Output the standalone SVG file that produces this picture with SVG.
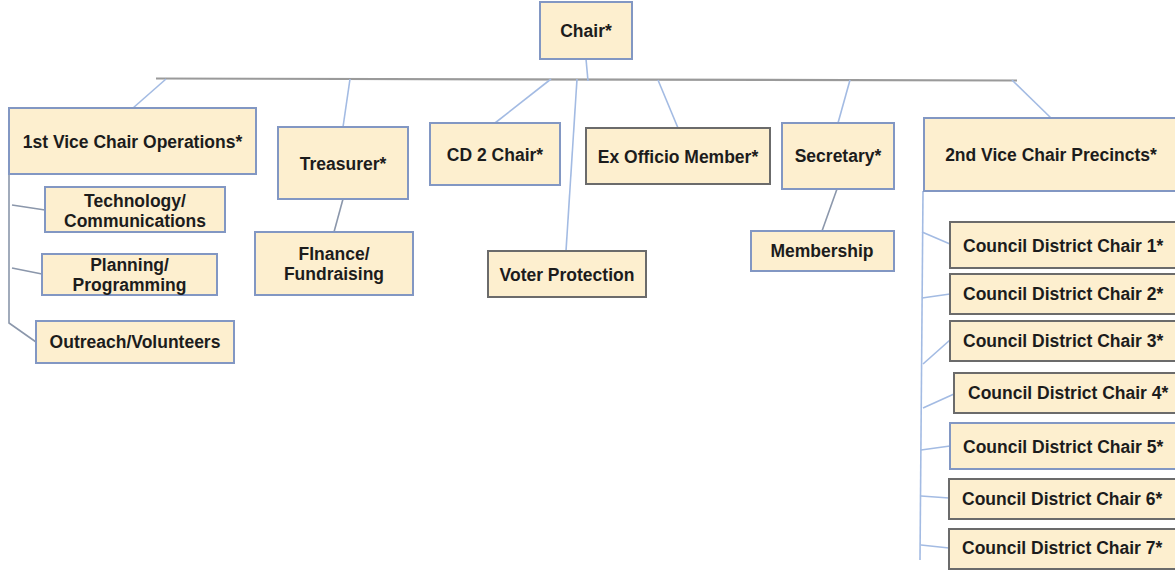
<svg xmlns="http://www.w3.org/2000/svg" width="1175" height="571" viewBox="0 0 1175 571">
<style>
.box{fill:#fdefcf;stroke:#8297c3;stroke-width:2}
.dk{stroke:#6b6b6b}
text{font-family:"Liberation Sans",Arial,sans-serif;font-weight:bold;font-size:17.5px;fill:#1c1c1c}
.c{text-anchor:middle}
.ln{fill:none;stroke:#a3bbe3;stroke-width:1.6}
.lg{fill:none;stroke:#8b97ab;stroke-width:1.6}
</style>
<rect width="1175" height="571" fill="#ffffff"/>
<g id="connectors">
<line x1="156" y1="78.5" x2="1017" y2="80.5" stroke="#9a9a9a" stroke-width="2.2"/>
<line class="ln" x1="586" y1="59" x2="588" y2="81"/>
<line class="ln" x1="166" y1="79" x2="133" y2="108"/>
<line class="ln" x1="350" y1="79" x2="343" y2="127"/>
<line class="ln" x1="551" y1="79" x2="495" y2="123"/>
<line class="ln" x1="577" y1="79" x2="566" y2="251"/>
<line class="ln" x1="658" y1="80" x2="678" y2="128"/>
<line class="ln" x1="850" y1="80" x2="838" y2="123"/>
<line class="ln" x1="1012" y1="80" x2="1051" y2="118"/>
<line class="lg" x1="343" y1="199" x2="334" y2="232"/>
<line class="lg" x1="837" y1="189" x2="822" y2="231"/>
<polyline class="lg" points="9,174 9,323 36,342"/>
<line class="lg" x1="12" y1="205" x2="45" y2="210"/>
<line class="lg" x1="12" y1="268" x2="42" y2="274"/>
<line class="ln" x1="923" y1="191" x2="920" y2="560"/>
<line class="ln" x1="922" y1="232" x2="950" y2="244"/>
<line class="ln" x1="922" y1="298" x2="950" y2="294"/>
<line class="ln" x1="923" y1="364" x2="950" y2="340"/>
<line class="ln" x1="923" y1="408" x2="954" y2="394"/>
<line class="ln" x1="921" y1="450" x2="950" y2="446"/>
<line class="ln" x1="921" y1="496" x2="949" y2="498"/>
<line class="ln" x1="921" y1="545" x2="949" y2="548"/>
</g>
<g id="chair"><rect class="box" x="540" y="2" width="92" height="57"/><text class="c" x="586" y="37">Chair*</text></g>
<g id="vice1"><rect class="box" x="9" y="108" width="247" height="66"/><text class="c" x="132.5" y="148">1st Vice Chair Operations*</text></g>
<g id="tech"><rect class="box" x="45" y="187" width="180" height="45"/><text class="c" x="135" y="207">Technology/</text><text class="c" x="135" y="227">Communications</text></g>
<g id="planning"><rect class="box" x="42" y="254" width="175" height="41"/><text class="c" x="129.5" y="271">Planning/</text><text class="c" x="129.5" y="291">Programming</text></g>
<g id="outreach"><rect class="box" x="36" y="321" width="198" height="42"/><text class="c" x="135" y="348">Outreach/Volunteers</text></g>
<g id="treasurer"><rect class="box" x="278" y="127" width="130" height="72"/><text class="c" x="343" y="170">Treasurer*</text></g>
<g id="finance"><rect class="box" x="255" y="232" width="158" height="63"/><text class="c" x="334" y="260">FInance/</text><text class="c" x="334" y="280">Fundraising</text></g>
<g id="cd2"><rect class="box" x="430" y="123" width="130" height="62"/><text class="c" x="495" y="161">CD 2 Chair*</text></g>
<g id="voter"><rect class="box dk" x="488" y="251" width="158" height="46"/><text class="c" x="567" y="281">Voter Protection</text></g>
<g id="exofficio"><rect class="box dk" x="586" y="128" width="184" height="56"/><text class="c" x="678" y="163">Ex Officio Member*</text></g>
<g id="secretary"><rect class="box" x="782" y="123" width="112" height="66"/><text class="c" x="838" y="162">Secretary*</text></g>
<g id="membership"><rect class="box" x="751" y="231" width="143" height="40"/><text class="c" x="822" y="257">Membership</text></g>
<g id="vice2"><rect class="box" x="924" y="118" width="260" height="73"/><text class="c" x="1051" y="161">2nd Vice Chair Precincts*</text></g>
<g id="cdc1"><rect class="box dk" x="950" y="222" width="234" height="46"/><text x="963" y="252">Council District Chair 1*</text></g>
<g id="cdc2"><rect class="box dk" x="950" y="274" width="234" height="40"/><text x="963" y="300">Council District Chair 2*</text></g>
<g id="cdc3"><rect class="box dk" x="950" y="321" width="234" height="40"/><text x="963" y="347">Council District Chair 3*</text></g>
<g id="cdc4"><rect class="box dk" x="954" y="373" width="230" height="40"/><text x="968" y="399">Council District Chair 4*</text></g>
<g id="cdc5"><rect class="box" x="950" y="423" width="234" height="46"/><text x="963" y="453">Council District Chair 5*</text></g>
<g id="cdc6"><rect class="box dk" x="949" y="479" width="235" height="40"/><text x="962" y="505">Council District Chair 6*</text></g>
<g id="cdc7"><rect class="box dk" x="949" y="529" width="235" height="40"/><text x="962" y="554">Council District Chair 7*</text></g>
</svg>
